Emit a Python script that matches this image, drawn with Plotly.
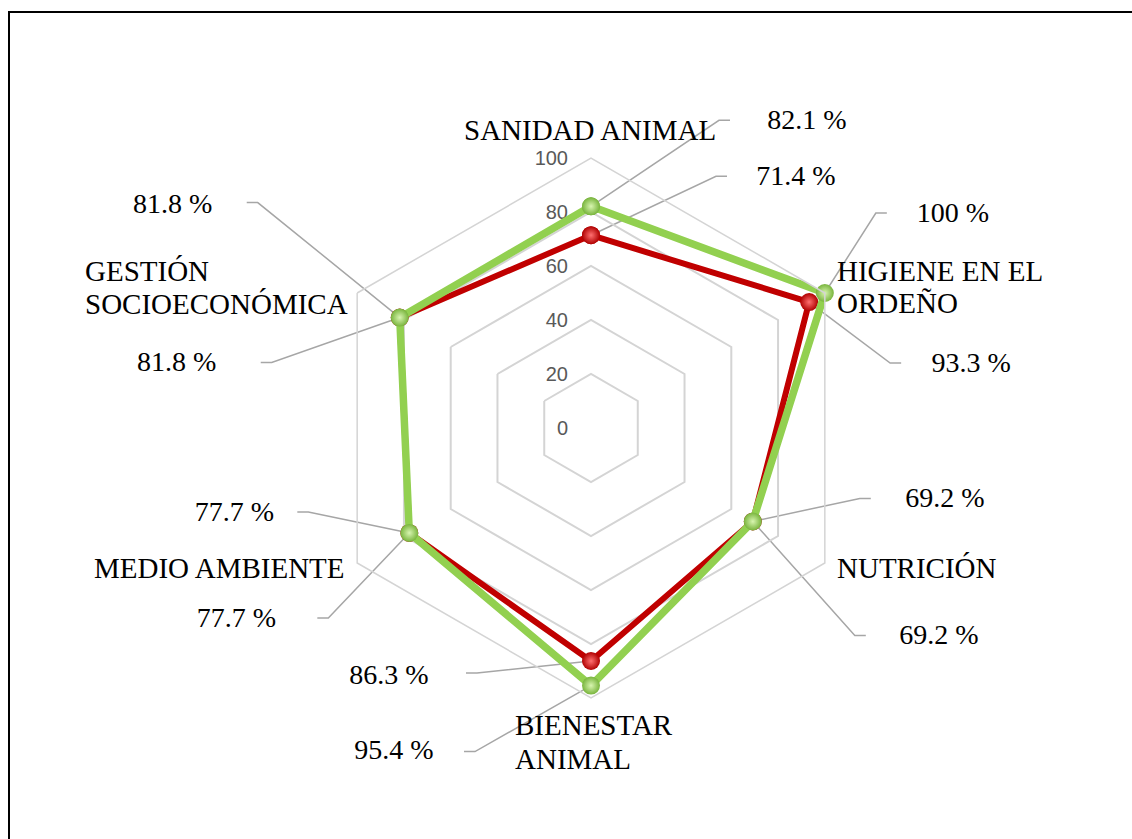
import math
import plotly.graph_objects as go

# ---------------- data ----------------
category_lines = [
    ["SANIDAD ANIMAL"],
    ["HIGIENE EN EL", "ORDEÑO"],
    ["NUTRICIÓN"],
    ["BIENESTAR", "ANIMAL"],
    ["MEDIO AMBIENTE"],
    ["GESTIÓN", "SOCIOECONÓMICA"],
]
categories = [" ".join(l) for l in category_lines]
red_values = [71.4, 93.3, 69.2, 86.3, 77.7, 81.8]
green_values = [82.1, 100, 69.2, 95.4, 77.7, 81.8]
radial_ticks = [0, 20, 40, 60, 80, 100]

# ---------------- layout / style ----------------
W, H = 1132, 839
CX, CY, R = 591, 428, 270          # polar centre and radius in px
RMAX = 100
S = R / RMAX                       # px per radial unit

RED = "#C00000"
GREEN = "#92D050"
GRID = "#D4D4D4"
LEADER = "#A6A6A6"
SERIF = "Liberation Serif"

# label geometry: (elbow dx, elbow dy, label dx, label dy) in px relative to the point
red_label_off = [(125, -59, 205, -57), (81, 61, 162, 63), (102, 114, 186, 116),
                 (-114, 12, -202, 16), (-81, 85, -173, 87), (-128, 45, -223, 46)]
green_label_off = [(128, -86, 216, -84), (51, -80, 128, -78), (107, -23, 192, -21),
                   (-116, 66, -197, 66), (-101, -21, -175, -19), (-142, -115, -227, -112)]
HSEG = 11

# category label placement (anchor x px, first-line y px, line step px, xanchor)
cat_place = [(590, 130, 0, "center"), (835, 271, 32, "left"), (835, 568, 0, "left"),
             (513, 725, 34, "left"), (347, 568, 0, "right"), (83, 271, 33, "left")]

fig = go.Figure()


def closed(v):
    return list(v) + [v[0]]


for vals, col, lw, edge, centre in [
    (red_values, RED, 6, "#B00000", "#FF7070"),
    (green_values, GREEN, 7.5, "#78B43C", "#D8F5B0"),
]:
    fig.add_trace(go.Scatterpolar(
        r=closed(vals), theta=closed(categories), mode="lines+markers",
        line=dict(color=col, width=lw),
        marker=dict(size=18, color=edge, gradient=dict(type="radial", color=centre), line=dict(width=0)),
        hoverinfo="skip", showlegend=False, subplot="polar",
    ))

# leader lines and value labels on a cartesian overlay with the same scale
n = len(categories)
for vals, offs in [(red_values, red_label_off), (green_values, green_label_off)]:
    lx, ly, tx, ty, tt = [], [], [], [], []
    for i, v in enumerate(vals):
        th = 2 * math.pi * i / n
        px, py = v * math.sin(th), v * math.cos(th)
        ex, ey, ldx, ldy = offs[i]
        sgn = 1 if ldx > 0 else -1
        lx += [px, px + ex / S, px + (ex + sgn * HSEG) / S, None]
        ly += [py, py - ey / S, py - ey / S, None]
        tx.append(px + ldx / S)
        ty.append(py - ldy / S)
        tt.append(f"{v:g} %")
    fig.add_trace(go.Scatter(x=lx, y=ly, mode="lines", line=dict(color=LEADER, width=1.5),
                             hoverinfo="skip", showlegend=False))
    fig.add_trace(go.Scatter(x=tx, y=ty, mode="text", text=tt, textposition="middle center",
                             textfont=dict(family=SERIF, size=28, color="black"),
                             hoverinfo="skip", showlegend=False, cliponaxis=False))

annotations = []
for lines, (ax_, ay_, step, xa) in zip(category_lines, cat_place):
    for k, line in enumerate(lines):
        annotations.append(dict(
            x=(ax_ - CX) / S, y=(CY - (ay_ + k * step)) / S, xref="x", yref="y",
            text=line, showarrow=False, xanchor=xa, yanchor="middle",
            font=dict(family=SERIF, size=29, color="black"),
        ))

fig.update_layout(
    width=W, height=H,
    margin=dict(l=0, r=0, t=0, b=0, pad=0),
    paper_bgcolor="white", plot_bgcolor="rgba(0,0,0,0)",
    showlegend=False,
    polar=dict(
        domain=dict(x=[(CX - R) / W, (CX + R) / W], y=[(H - CY - R) / H, (H - CY + R) / H]),
        bgcolor="rgba(0,0,0,0)",
        gridshape="linear",
        radialaxis=dict(range=[0, RMAX], tickvals=radial_ticks, showticklabels=False,
                        ticks="", showline=False, gridcolor=GRID, gridwidth=1.5, angle=90),
        angularaxis=dict(rotation=90, direction="clockwise", showticklabels=False,
                         ticks="", showgrid=False, showline=True, linecolor=GRID, linewidth=1.5),
    ),
    xaxis=dict(domain=[0, 1], range=[-CX / S, (W - CX) / S], visible=False, fixedrange=True),
    yaxis=dict(domain=[0, 1], range=[(CY - H) / S, CY / S], anchor="free", position=CX / W,
               tickvals=radial_ticks, ticktext=[str(t) for t in radial_ticks],
               ticks="outside", ticklen=19, tickcolor="rgba(0,0,0,0)",
               showgrid=False, zeroline=False, showline=False, fixedrange=True,
               tickfont=dict(family="Liberation Sans", size=20, color="#595959")),
    annotations=annotations,
    shapes=[dict(type="path", xref="paper", yref="paper",
                 path=f"M {9/W},0 L {9/W},{1-12/H} L 1,{1-12/H}",
                 line=dict(color="black", width=2))],
)

fig.write_html("out.html", config={"displayModeBar": False})
